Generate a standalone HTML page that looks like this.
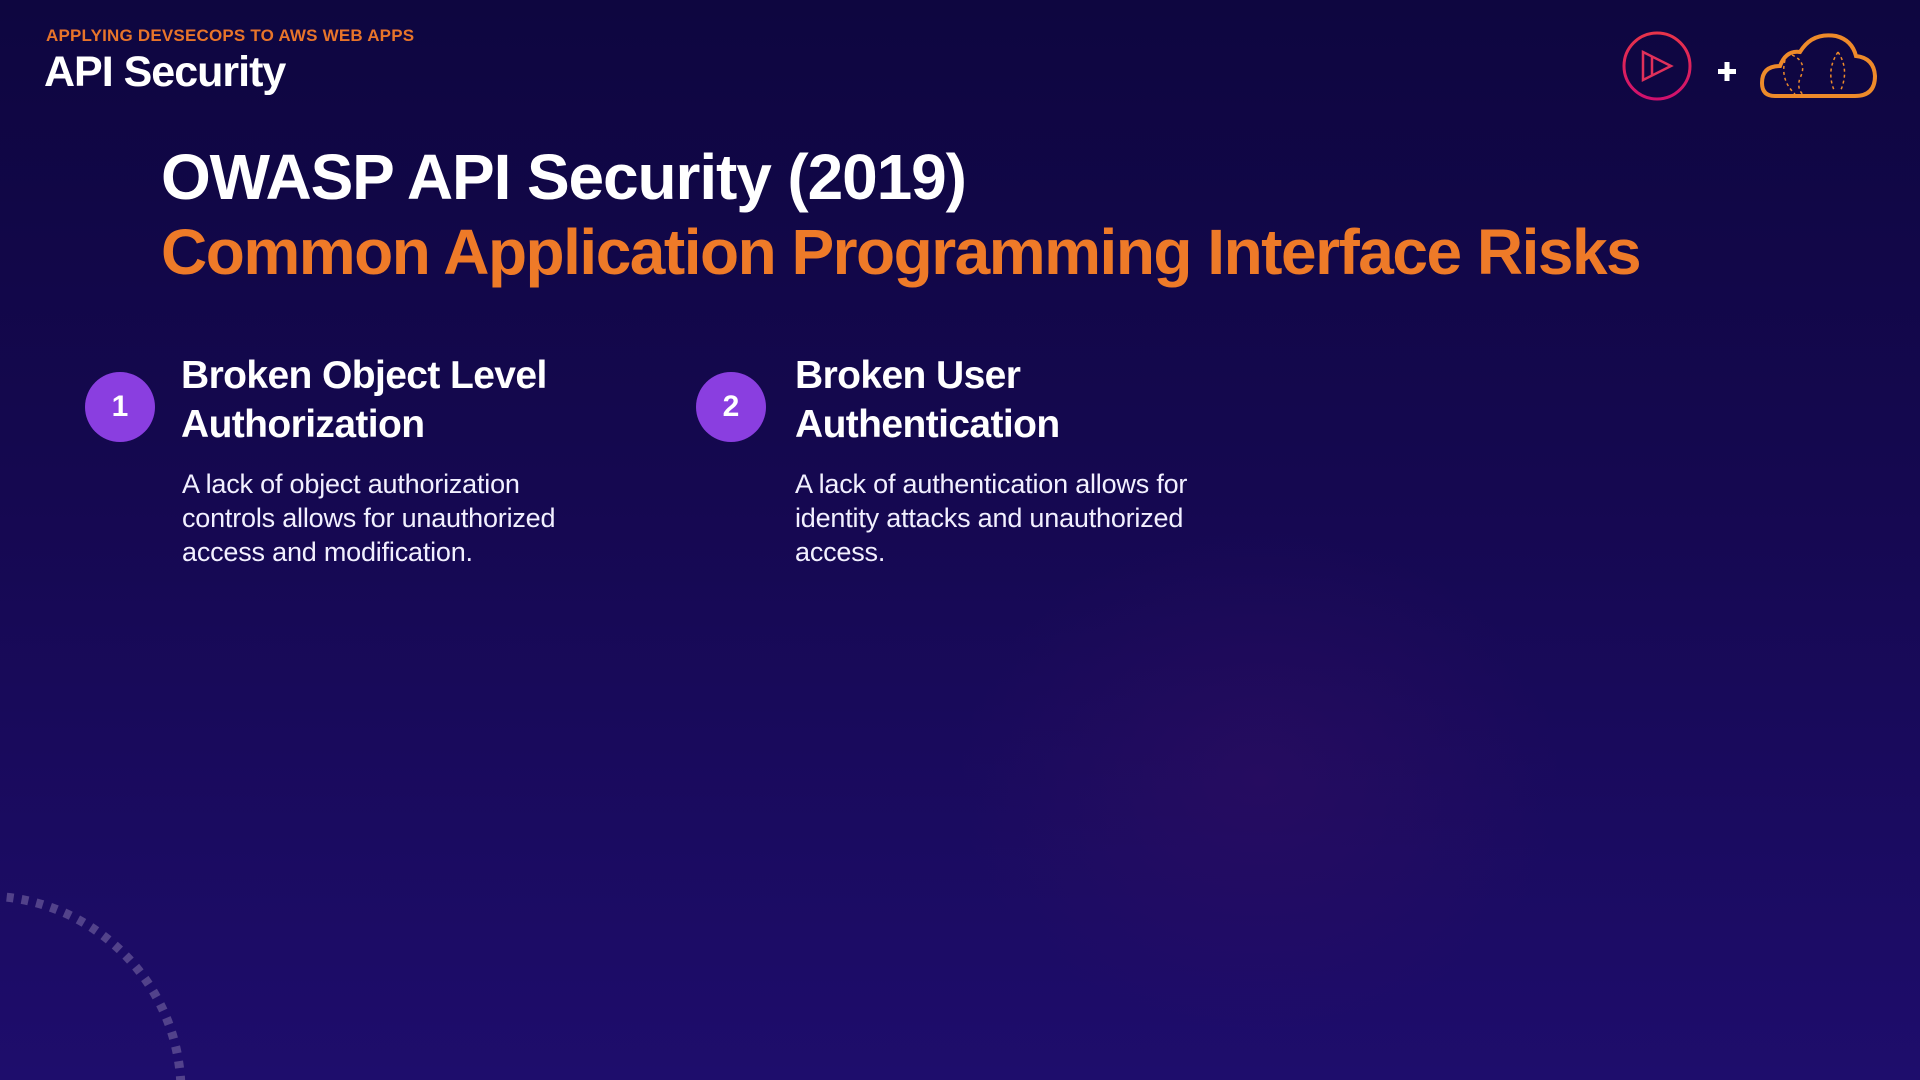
<!DOCTYPE html>
<html style="overflow:hidden"><head><meta charset="utf-8"><style>
*{margin:0;padding:0}
body{width:1920px;height:1080px;overflow:hidden;position:relative;font-family:"Liberation Sans",sans-serif;
background:radial-gradient(ellipse 300px 250px at 1260px 780px,rgba(60,15,100,.35),transparent),
linear-gradient(180deg,#0e0640 0%,#150850 45%,#1e0d6c 100%);}
.t{position:absolute;white-space:nowrap}
.c{position:absolute;width:70px;height:70px;border-radius:50%;background:#8a3ee0;color:#fff;font-weight:bold;font-size:30px;text-align:center;line-height:70px}
.h{font-weight:bold;color:#fff;font-size:39px;letter-spacing:-.6px;line-height:49px}
.d{color:#f2f0ff;font-size:27px;letter-spacing:-.2px;line-height:34px}
</style></head><body>
<div class="t" style="left:46px;top:26px;font-size:17px;font-weight:bold;color:#e8742a;letter-spacing:.2px">APPLYING DEVSECOPS TO AWS WEB APPS</div>
<div class="t" style="left:44px;top:48px;font-size:43px;font-weight:bold;color:#fff;letter-spacing:-1px">API Security</div>
<div class="t" style="left:161px;top:140px;font-size:64px;font-weight:bold;color:#fff;letter-spacing:-1.1px">OWASP API Security (2019)</div>
<div class="t" style="left:161px;top:215px;font-size:64px;font-weight:bold;color:#ee7a28;letter-spacing:-1.5px">Common Application Programming Interface Risks</div>
<div class="c" style="left:85px;top:372px">1</div>
<div class="t h" style="left:181px;top:351px">Broken Object Level<br>Authorization</div>
<div class="t d" style="left:182px;top:467px">A lack of object authorization<br>controls allows for unauthorized<br>access and modification.</div>
<div class="c" style="left:696px;top:372px">2</div>
<div class="t h" style="left:795px;top:351px">Broken User<br>Authentication</div>
<div class="t d" style="left:795px;top:467px">A lack of authentication allows for<br>identity attacks and unauthorized<br>access.</div>
<svg style="position:absolute;left:0;top:0;display:block" width="1920" height="1080">
<defs><linearGradient id="g" x1="0" y1="0" x2="0" y2="1"><stop offset="0" stop-color="#e8344a"/><stop offset="1" stop-color="#d0106e"/></linearGradient></defs>
<circle cx="1657" cy="66" r="33" fill="none" stroke="url(#g)" stroke-width="3"/>
<path d="M1643 52 L1671 66 L1643 80 Z" fill="none" stroke="#e0305a" stroke-width="2.5"/>
<path d="M1652 56 L1652 76" fill="none" stroke="#e0305a" stroke-width="2.5"/>
<rect x="1718" y="69" width="18" height="5" fill="#fff"/><rect x="1724.5" y="62" width="5" height="19" fill="#fff"/>
<path d="M1775 96 Q1762 96 1762 83 Q1762 66 1780 66 Q1786 50 1800 52 Q1812 32 1836 36 Q1852 40 1856 56 Q1874 58 1875 76 Q1875 96 1855 96 Z" fill="none" stroke="#ee8a2a" stroke-width="4"/>
<path d="M1792 55 Q1808 62 1800 78 Q1796 90 1805 96 M1785 60 Q1780 80 1795 94 M1838 52 Q1826 70 1834 90 M1838 52 Q1850 70 1840 92" fill="none" stroke="#ee8a2a" stroke-width="1.5" stroke-dasharray="3 3"/>
<circle cx="-15" cy="1092" r="196" fill="none" stroke="#6a5a9a" stroke-width="9" stroke-dasharray="7 8" opacity=".7"/>
</svg>
</body></html>
